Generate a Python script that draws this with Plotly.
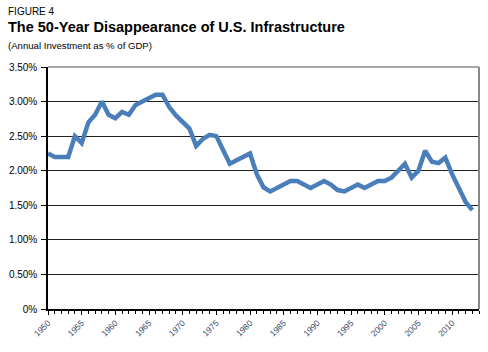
import plotly.graph_objects as go

years = list(range(1950, 2014))
values = [2.25, 2.2, 2.2, 2.2, 2.5, 2.4, 2.7, 2.81, 3.0, 2.81,
          2.76, 2.85, 2.81, 2.95, 3.0, 3.05, 3.1, 3.1, 2.92, 2.8,
          2.7, 2.61, 2.36, 2.46, 2.52, 2.5, 2.3, 2.1, 2.15, 2.2,
          2.25, 1.95, 1.76, 1.7, 1.75, 1.8, 1.85, 1.85, 1.8, 1.75,
          1.8, 1.85, 1.8, 1.72, 1.7, 1.75, 1.8, 1.75, 1.8, 1.85,
          1.85, 1.9, 2.0, 2.1, 1.9, 2.0, 2.29, 2.13, 2.11, 2.19,
          1.95, 1.75, 1.55, 1.43]

ytick_vals = [0, 0.5, 1.0, 1.5, 2.0, 2.5, 3.0, 3.5]
ytick_text = ["0%", "0.50%", "1.00%", "1.50%", "2.00%", "2.50%", "3.00%", "3.50%"]
xtick_vals = [1950, 1955, 1960, 1965, 1970, 1975, 1980, 1985, 1990, 1995, 2000, 2005, 2010]

FONT = "Liberation Sans, Arial, Helvetica, sans-serif"

fig = go.Figure()
fig.add_trace(go.Scatter(
    x=years, y=values, mode="lines",
    line=dict(color="#4a7ebb", width=4.5),
    hoverinfo="skip", showlegend=False,
))

L, R, T, B = 45, 9, 67, 43
W, H = 488, 352

fig.update_layout(
    width=W, height=H,
    margin=dict(l=L, r=R, t=T, b=B),
    paper_bgcolor="white", plot_bgcolor="white",
    font=dict(family=FONT, color="black"),
    xaxis=dict(
        range=[1950, 2014], tickvals=xtick_vals,
        ticktext=[str(v) for v in xtick_vals],
        tickangle=-45, tickfont=dict(size=8.5, color="#3a4a6a"),
        ticks="outside", ticklen=4, tickcolor="black", tickwidth=1,
        minor=dict(dtick=1, tick0=1950, ticks="outside", ticklen=3, tickcolor="black", tickwidth=1),
        showgrid=False, zeroline=False,
        showline=True, linecolor="black", linewidth=1.5,
        fixedrange=True,
    ),
    yaxis=dict(
        range=[0, 3.5], tickvals=ytick_vals, ticktext=ytick_text,
        tickfont=dict(size=10, color="black"),
        ticks="outside", ticklen=5, tickcolor="black", ticklabelstandoff=2,
        showgrid=True, gridcolor="#222222", gridwidth=1,
        zeroline=False, showline=True, linecolor="black", linewidth=1.5,
        fixedrange=True,
    ),
    shapes=[
        dict(type="line", xref="paper", yref="paper", x0=1, x1=1, y0=0, y1=1,
             line=dict(color="#888888", width=2)),
        dict(type="line", xref="paper", yref="paper", x0=0, x1=1, y0=1, y1=1,
             line=dict(color="#888888", width=1.5)),
    ],
)

plot_h = H - T - B
plot_w = W - L - R
def px(xp):
    return (xp - L) / plot_w
def py(yp):
    return (H - B - yp) / plot_h

fig.update_layout(annotations=[
    dict(text="FIGURE 4", xref="paper", yref="paper", x=px(3), y=py(11), showarrow=False,
         xanchor="left", yanchor="middle", font=dict(size=10, family=FONT, color="black")),
    dict(text="<b>The 50-Year Disappearance of U.S. Infrastructure</b>", xref="paper", yref="paper",
         x=px(3), y=py(27), showarrow=False, xanchor="left", yanchor="middle",
         font=dict(size=14.5, family=FONT, color="black")),
    dict(text="(Annual Investment as % of GDP)", xref="paper", yref="paper",
         x=px(3), y=py(45), showarrow=False, xanchor="left", yanchor="middle",
         font=dict(size=9.6, family=FONT, color="black")),
])

fig.write_html("out.html", config={"displayModeBar": False})
